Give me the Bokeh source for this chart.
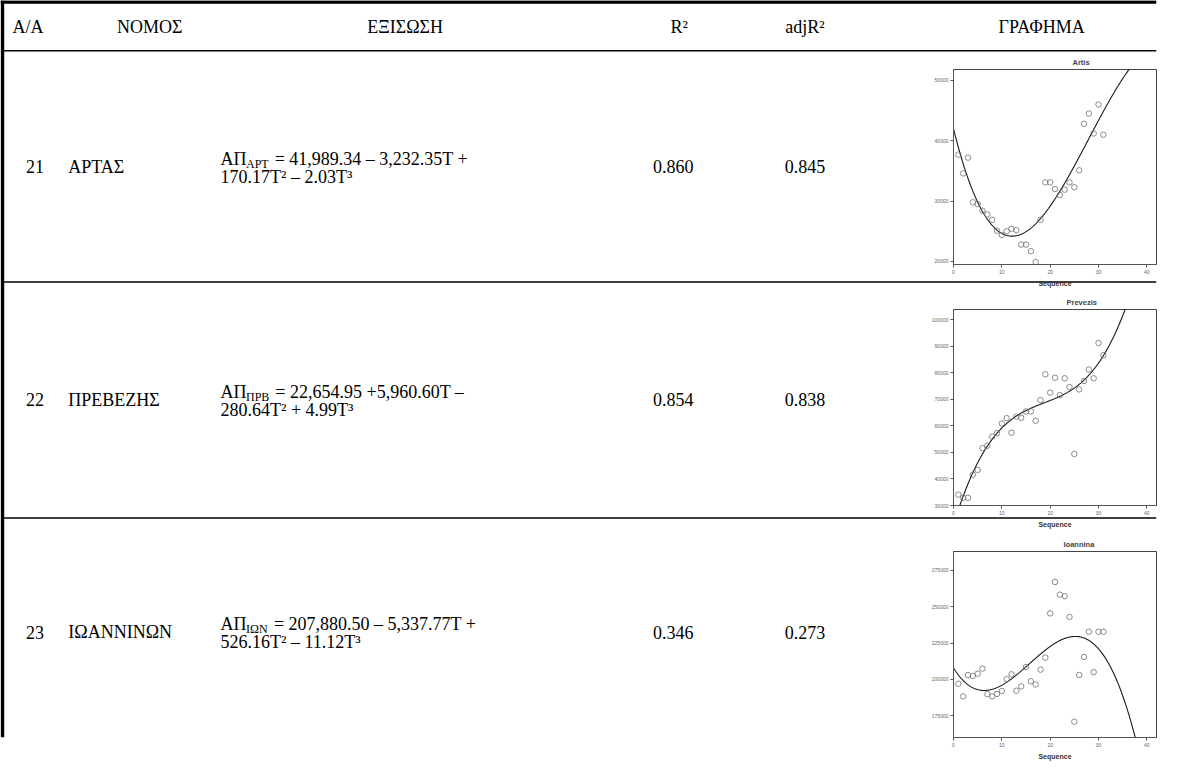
import numpy as np
from bokeh.plotting import figure
from bokeh.models import Range1d, FixedTicker, GridBox, BasicTickFormatter
from bokeh.core.properties import value
from bokeh.embed import file_html
from bokeh.resources import INLINE

# ---------------- table data ----------------
header = ["Α/Α", "ΝΟΜΟΣ", "ΕΞΙΣΩΣΗ", "R²", "adjR²", "ΓΡΑΦΗΜΑ"]
row_ids = ["21", "22", "23"]
prefectures = ["ΑΡΤΑΣ", "ΠΡΕΒΕΖΗΣ", "ΙΩΑΝΝΙΝΩΝ"]
eq_main = ["ΑΠ", "ΑΠ", "ΑΠ"]
eq_subscripts = ["ΑΡΤ", "ΠΡΒ", "ΙΩΝ"]
eq_line1 = ["= 41,989.34 – 3,232.35T +", "= 22,654.95 +5,960.60T –", "= 207,880.50 – 5,337.77T +"]
eq_line2 = ["170.17T² – 2.03T³", "280.64T² + 4.99T³", "526.16T² – 11.12T³"]
r2 = ["0.860", "0.854", "0.346"]
adj_r2 = ["0.845", "0.838", "0.273"]

# ---------------- chart data ----------------
titles = ["Artis", "Prevezis", "Ioannina"]
sequence = list(range(1, 32))
artis = [37700, 34600, 37200, 29800, 29500, 28400, 27800, 26900, 25100, 24400,
         25000, 25400, 25200, 22800, 22800, 21700, 19900, 26900, 33100, 33100,
         32000, 31000, 31900, 33100, 32300, 35100, 42800, 44500, 41200, 46000, 41000]
prevezis = [34100, 32900, 32900, 41600, 43400, 51600, 52500, 55900, 57200, 60900,
            62900, 57400, 63500, 63000, 65400, 65400, 61900, 69700, 79400, 72500,
            78100, 71600, 77900, 74600, 49400, 73700, 76900, 81200, 77900, 91200, 86600]
ioannina = [197000, 188300, 203000, 202400, 203900, 207400, 189800, 188300, 190000, 192000,
            200200, 203500, 192200, 195200, 208500, 198700, 196500, 206700, 215000, 245400,
            267000, 258300, 257200, 243000, 170900, 203000, 215400, 232800, 205000, 232800, 232800]
series = [artis, prevezis, ioannina]
coefficients = [[41989.34, -3232.35, 170.17, -2.03],
                [22654.95, 5960.60, -280.64, 4.99],
                [207880.50, -5337.77, 526.16, -11.12]]
x_ticks = [0, 10, 20, 30, 40]
y_ticks = [[20000, 30000, 40000, 50000],
           [30000, 40000, 50000, 60000, 70000, 80000, 90000, 100000],
           [175000, 200000, 225000, 250000, 275000]]
y_ranges = [(19500, 51800), (30000, 103800), (160000, 288000)]

# ---------------- layout (page pixels) ----------------
W, H = 1177, 762
SERIF = value("Liberation Serif")
FS = 18
SUB_FS = 12
# Times-compatible glyph widths (per 1000 em) for the subscript placement
GW = {"Α": 722, "Π": 722, "Ρ": 556, "Τ": 611, "Β": 667, "Ι": 333, "Ω": 768, "Ν": 722, " ": 250}

def tw(s, fs):
    return sum(GW.get(c, 500) for c in s) * fs / 1000.0

row_lines = [60, 299, 543]
row_centers = [180, 421, 661]

bg = figure(width=W, height=H, x_range=Range1d(8, 8 + W), y_range=Range1d(8 + H, 8),
            x_axis_type=None, y_axis_type=None, output_backend="svg",
            toolbar_location=None, min_border=0)
bg.outline_line_color = None
bg.grid.visible = False

# borders and rules
bg.segment(x0=[8], y0=[9.5], x1=[8 + W], y1=[9.5], line_color="black", line_width=3.5)
bg.segment(x0=[10], y0=[8], x1=[10], y1=[8 + H], line_color="black", line_width=3.5)
bg.segment(x0=[10] * 3, y0=row_lines, x1=[8 + W] * 3, y1=row_lines, line_color="black", line_width=1.5)

# header
hx = [36, 160, 420, 699, 827, 1068]
bg.text(x=hx, y=[35] * 6, text=header, text_font=SERIF, text_font_size=f"{FS}px",
        text_align="center", text_baseline="middle", text_color="black")

eq_x = 232
for i in range(3):
    c = row_centers[i]
    bg.text(x=[43], y=[c], text=[row_ids[i]], text_font=SERIF, text_font_size=f"{FS}px",
            text_align="center", text_baseline="middle", text_color="black")
    bg.text(x=[77], y=[c], text=[prefectures[i]], text_font=SERIF, text_font_size=f"{FS}px",
            text_align="left", text_baseline="middle", text_color="black")
    bg.text(x=[693], y=[c], text=[r2[i]], text_font=SERIF, text_font_size=f"{FS}px",
            text_align="center", text_baseline="middle", text_color="black")
    bg.text(x=[827], y=[c], text=[adj_r2[i]], text_font=SERIF, text_font_size=f"{FS}px",
            text_align="center", text_baseline="middle", text_color="black")
    y1 = c - 8
    x_sub = eq_x + tw(eq_main[i], FS)
    x_rest = x_sub + tw(eq_subscripts[i], SUB_FS) + tw(" ", FS) + 2
    bg.text(x=[eq_x], y=[y1], text=[eq_main[i]], text_font=SERIF, text_font_size=f"{FS}px",
            text_align="left", text_baseline="middle", text_color="black")
    bg.text(x=[x_sub], y=[y1 + 5], text=[eq_subscripts[i]], text_font=SERIF,
            text_font_size=f"{SUB_FS}px", text_align="left", text_baseline="middle", text_color="black")
    bg.text(x=[x_rest], y=[y1], text=[eq_line1[i]], text_font=SERIF, text_font_size=f"{FS}px",
            text_align="left", text_baseline="middle", text_color="black")
    bg.text(x=[eq_x], y=[c + 10], text=[eq_line2[i]], text_font=SERIF, text_font_size=f"{FS}px",
            text_align="left", text_baseline="middle", text_color="black")

# ---------------- small charts ----------------
fig_heights = [239, 244, 227]
tops = [17, 18, 15]
bottoms = [27, 30, 19]
title_offsets = [119, 113, 110]


def mini(i):
    p = figure(width=255, height=fig_heights[i], x_range=Range1d(0, 42),
               y_range=Range1d(*y_ranges[i]), output_backend="svg", toolbar_location=None,
               min_border_left=31, min_border_right=21, min_border_top=tops[i],
               min_border_bottom=bottoms[i], background_fill_alpha=0, border_fill_alpha=0)
    p.grid.visible = False
    p.outline_line_color = "#444444"
    p.outline_line_width = 1
    p.title.text = titles[i]
    p.title.align = "left"
    p.title.offset = title_offsets[i]
    p.title.text_font = "Liberation Sans"
    p.title.text_font_size = "7.5px"
    p.title.text_font_style = "bold"
    p.title.standoff = 5
    p.xaxis.ticker = FixedTicker(ticks=x_ticks)
    p.yaxis.ticker = FixedTicker(ticks=y_ticks[i])
    p.yaxis.formatter = BasicTickFormatter(use_scientific=False)
    for ax in (p.xaxis[0], p.yaxis[0]):
        ax.axis_line_color = "#555555"
        ax.major_tick_line_color = "#555555"
        ax.major_tick_out = 3
        ax.major_tick_in = 0
        ax.minor_tick_line_color = None
        ax.major_label_text_font = "Liberation Sans"
        ax.major_label_text_font_size = "5px"
        ax.major_label_text_color = "#666666"
        ax.major_label_standoff = 2
    p.xaxis.axis_label = "Sequence"
    p.xaxis.axis_label_text_font = "Liberation Sans"
    p.xaxis.axis_label_text_font_size = "7px"
    p.xaxis.axis_label_text_font_style = "bold"
    p.xaxis.axis_label_text_color = "#333333"
    p.xaxis.axis_label_standoff = 3
    a0, a1, a2, a3 = coefficients[i]
    tc = np.linspace(0, 42, 400)
    p.line(tc, a0 + a1 * tc + a2 * tc ** 2 + a3 * tc ** 3, line_color="#1a1a1a", line_width=1.1)
    p.scatter(sequence, series[i], marker="circle", size=5.5, fill_color=None,
              line_color="#6e6e6e", line_width=0.8)
    return p

charts = [mini(i) for i in range(3)]

grid = GridBox(children=[(bg, 0, 0, 4, 2), (charts[0], 1, 1), (charts[1], 2, 1), (charts[2], 3, 1)],
               rows=["52px", "239px", "244px", "227px"], cols=["922px", "255px"])

open("out.html", "w").write(file_html(grid, INLINE))
